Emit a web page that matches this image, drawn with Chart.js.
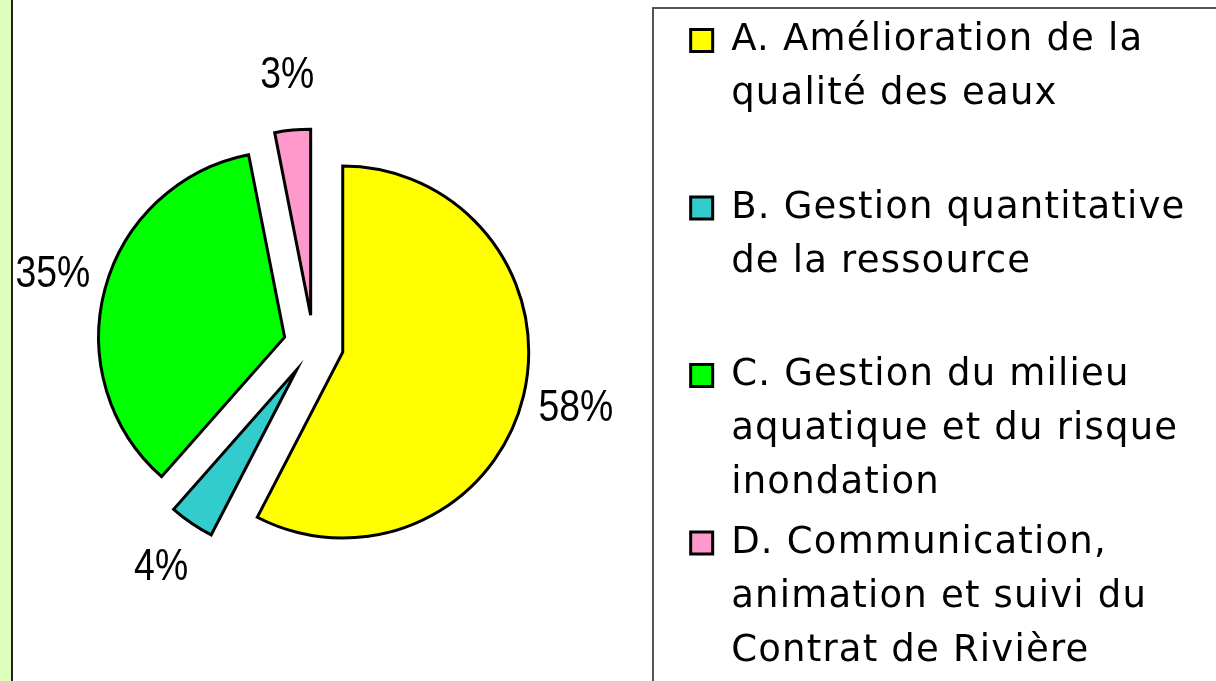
<!DOCTYPE html>
<html lang="fr">
  <head>
    <meta charset="UTF-8" />
    <title>Répartition par volet</title>
    <script src="https://cdn.jsdelivr.net/npm/chart.js@4.4.1/dist/chart.umd.min.js"></script>
    <style>
      html, body {
        margin: 0;
        width: 1216px;
        height: 681px;
        overflow: hidden;
        background: #fff;
      }
      #strip {
        position: absolute;
        left: 0;
        top: 0;
        width: 11px;
        height: 681px;
        background: #ddffbb;
        border-right: 2px solid #222;
      }
      #legendFrame {
        position: absolute;
        left: 652px;
        top: 7px;
        width: 700px;
        height: 800px;
        border: 2px solid #555;
      }
      #pie {
        position: absolute;
        left: -60px;
        top: 0;
      }
    </style>
  </head>
  <body>
    <div id="strip"></div>
    <div id="legendFrame"></div>
    <canvas id="pie" width="1276" height="700"></canvas>
    <script>
      const categories = [
        ["A. Amélioration de la", "qualité des eaux"],
        ["B. Gestion quantitative", "de la ressource"],
        ["C. Gestion du milieu", "aquatique et du risque", "inondation"],
        ["D. Communication,", "animation et suivi du", "Contrat de Rivière"],
      ];
      const values = [57.6, 3.9, 35.4, 3.1];
      const colors = ["#ffff00", "#33cccc", "#00ff00", "#ff99cc"];

      const RADIUS = 186;
      const SHIFT = 30; // how far each slice is pulled out

      // every legend entry takes 3 lines so the entries are evenly spaced
      const legendLabels = categories.map((l) => l.concat(Array(3 - l.length).fill("")));

      const slices = {
        id: "slices",
        beforeLayout(chart) {
          chart.ctx.letterSpacing = "1.2px";
        },
        beforeDraw(chart) {
          chart.ctx.letterSpacing = "1.2px";
        },
        afterDatasetsUpdate(chart) {
          // Chart.js grows the radius and narrows the arc of an offset slice,
          // undo that so every slice keeps the same radius and its true angles
          chart.getDatasetMeta(0).data.forEach((arc) => {
            const fix = 1 - Math.sin(Math.min(Math.PI, arc.circumference));
            const grow = SHIFT * fix;
            arc.outerRadius = RADIUS - grow;
            const widen = grow / Math.PI / RADIUS / 2;
            arc.startAngle -= widen;
            arc.endAngle += widen;
          });
        },
      };

      const pctLabels = {
        id: "pctLabels",
        afterDatasetsDraw(chart) {
          const ctx = chart.ctx;
          const total = values.reduce((a, b) => a + b, 0);
          ctx.save();
          ctx.letterSpacing = "0px";
          ctx.font = '44px "Liberation Sans", Arial, sans-serif';
          ctx.fillStyle = "#000";
          ctx.textAlign = "center";
          ctx.textBaseline = "middle";
          chart.getDatasetMeta(0).data.forEach((arc, i) => {
            const mid = (arc.startAngle + arc.endAngle) / 2;
            const r = RADIUS + SHIFT + 54;
            ctx.save();
            ctx.translate(arc.x + Math.cos(mid) * r, arc.y + Math.sin(mid) * r);
            ctx.scale(0.85, 1);
            ctx.fillText(Math.round((values[i] / total) * 100) + "%", 0, 0);
            ctx.restore();
          });
          ctx.restore();
        },
      };

      new Chart(document.getElementById("pie"), {
        type: "pie",
        data: {
          labels: legendLabels,
          datasets: [
            {
              data: values,
              backgroundColor: colors,
              borderColor: "#000",
              borderWidth: 3,
              borderJoinStyle: "miter",
              offset: SHIFT * 4,
              radius: RADIUS,
            },
          ],
        },
        options: {
          responsive: false,
          animation: false,
          events: [],
          layout: { padding: { top: 16.5, left: 2, right: 20.5, bottom: 0 } },
          plugins: {
            tooltip: { enabled: false },
            title: {
              display: true,
              text: "",
              position: "bottom",
              font: { size: 10, lineHeight: "10px" },
              padding: { top: 0, bottom: 16.5 },
            },
            legend: {
              position: "right",
              align: "start",
              labels: {
                boxWidth: 22,
                boxHeight: 22,
                padding: 5.5,
                color: "#000",
                font: { family: '"DejaVu Sans", Verdana, sans-serif', size: 37, lineHeight: "54px" },
              },
            },
          },
        },
        plugins: [slices, pctLabels],
      });
    </script>
  </body>
</html>
